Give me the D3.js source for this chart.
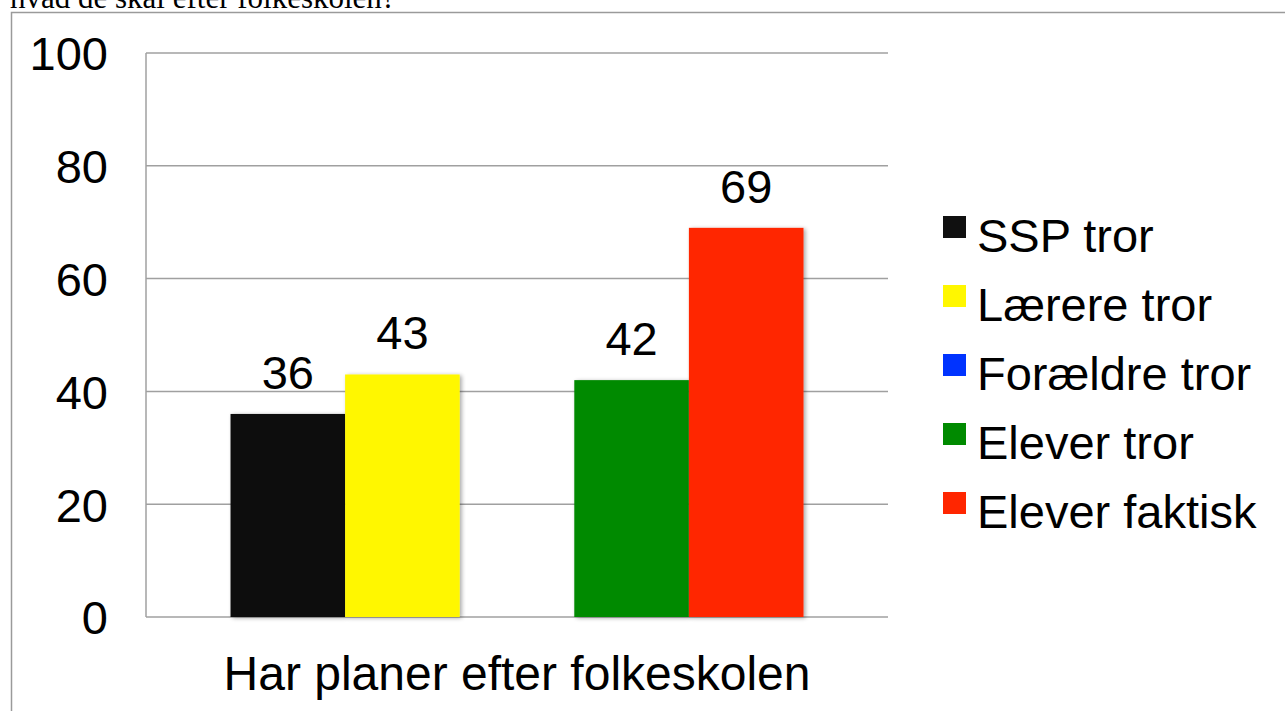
<!DOCTYPE html>
<html>
<head>
<meta charset="utf-8">
<script src="https://cdn.jsdelivr.net/npm/d3@7"></script>
<style>
    body { margin: 0; background: #fff; }
    svg text { font-family: "Liberation Sans", Arial, Helvetica, sans-serif; fill: #000; }
</style>
</head>
<body>
<div id="chart"></div>
<script>
    var categories = ['Har planer efter folkeskolen'];
    var series = ['SSP tror', 'Lærere tror', 'Forældre tror', 'Elever tror', 'Elever faktisk'];
    var colors = ['#101010', '#fff700', '#0033ff', '#008a00', '#ff2600'];
    // Forældre tror har ingen værdi i figuren
    var values = [36, 43, null, 42, 69];
    var yTicks = [0, 20, 40, 60, 80, 100];

    var width = 1285, height = 711;
    var plot = { left: 146, right: 888, top: 53, bottom: 617 };

    var svg = d3.select('#chart').append('svg')
        .attr('width', width)
        .attr('height', height);

    var defs = svg.append('defs');
    var shadow = defs.append('filter')
        .attr('id', 'shadow')
        .attr('x', '-10%').attr('y', '-10%')
        .attr('width', '130%').attr('height', '130%');
    shadow.append('feGaussianBlur').attr('in', 'SourceAlpha').attr('stdDeviation', 2);
    shadow.append('feOffset').attr('dx', 2).attr('dy', 1).attr('result', 'blur');
    shadow.append('feComponentTransfer').append('feFuncA').attr('type', 'linear').attr('slope', 0.35);
    var merge = shadow.append('feMerge');
    merge.append('feMergeNode');
    merge.append('feMergeNode').attr('in', 'SourceGraphic');

    // caption cut off at top of the image (as in the original)
    svg.append('text')
        .attr('x', 10)
        .attr('y', 8)
        .style('font-family', '"Liberation Serif", "Times New Roman", serif')
        .style('font-size', '31px')
        .text('hvad de skal efter folkeskolen?');

    // frame
    svg.append('path')
        .attr('d', 'M11.5,' + (height + 2) + 'V12.5H' + (width + 2))
        .attr('fill', 'none')
        .attr('stroke', '#9a9a9a')
        .attr('stroke-width', 1.5);

    var y = d3.scaleLinear().domain([0, 100]).range([plot.bottom, plot.top]);
    var x0 = d3.scaleBand().domain(categories).range([plot.left, plot.right])
        .paddingInner(0).paddingOuter(0.1475);
    var x1 = d3.scaleBand().domain(series).range([0, x0.bandwidth()]).padding(0);

    // gridlines
    svg.append('g')
        .selectAll('line')
        .data(yTicks)
        .enter().append('line')
        .attr('x1', plot.left)
        .attr('x2', plot.right)
        .attr('y1', function (d) { return y(d); })
        .attr('y2', function (d) { return y(d); })
        .attr('stroke', '#a0a0a0')
        .attr('stroke-width', 1.5);

    svg.append('line')
        .attr('x1', plot.left).attr('x2', plot.left)
        .attr('y1', plot.top).attr('y2', plot.bottom)
        .attr('stroke', '#a0a0a0')
        .attr('stroke-width', 1.5);

    var yAxis = svg.append('g')
        .attr('transform', 'translate(' + (plot.left - 38) + ',0)')
        .call(d3.axisLeft(y).tickValues(yTicks).tickSize(0).tickPadding(0));
    yAxis.select('.domain').remove();
    yAxis.selectAll('text')
        .style('font-size', '47px')
        .attr('dy', '0.36em')
        .style('font-family', '"Liberation Sans", Arial, sans-serif')
        .attr('fill', '#000');

    // bars
    var groups = svg.append('g')
        .selectAll('g')
        .data(categories)
        .enter().append('g')
        .attr('transform', function (d) { return 'translate(' + x0(d) + ',0)'; });

    var data = series.map(function (s, i) { return { name: s, value: values[i], color: colors[i] }; })
        .filter(function (d) { return d.value !== null; });

    groups.selectAll('rect')
        .data(data)
        .enter().append('rect')
        .attr('x', function (d) { return x1(d.name); })
        .attr('y', function (d) { return y(d.value); })
        .attr('width', x1.bandwidth())
        .attr('height', function (d) { return y(0) - y(d.value); })
        .attr('fill', function (d) { return d.color; })
        .attr('filter', 'url(#shadow)');

    groups.selectAll('text.val')
        .data(data)
        .enter().append('text')
        .attr('class', 'val')
        .attr('x', function (d) { return x1(d.name) + x1.bandwidth() / 2; })
        .attr('y', function (d) { return y(d.value) - 25; })
        .attr('text-anchor', 'middle')
        .style('font-size', '47px')
        .text(function (d) { return d.value; });

    // category label
    svg.append('g')
        .selectAll('text')
        .data(categories)
        .enter().append('text')
        .attr('x', function (d) { return x0(d) + x0.bandwidth() / 2; })
        .attr('y', 690)
        .attr('text-anchor', 'middle')
        .style('font-size', '48px')
        .text(function (d) { return d; });

    // legend
    var legend = svg.append('g')
        .attr('transform', 'translate(943,216)');

    var item = legend.selectAll('g')
        .data(series)
        .enter().append('g')
        .attr('transform', function (d, i) { return 'translate(0,' + i * 69 + ')'; });

    item.append('rect')
        .attr('width', 23)
        .attr('height', 22)
        .attr('fill', function (d, i) { return colors[i]; });

    item.append('text')
        .attr('x', 34)
        .attr('y', 36)
        .style('font-size', '47px')
        .text(function (d) { return d; });
</script>
</body>
</html>
